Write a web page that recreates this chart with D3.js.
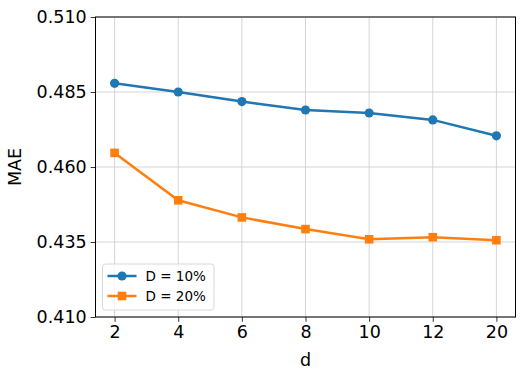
<!DOCTYPE html>
<html>
<head>
<meta charset="utf-8">
<script src="https://cdn.jsdelivr.net/npm/d3@7"></script>
<style>
  body { margin: 0; background: #fff; }
  text { font-family: 'DejaVu Sans', sans-serif; }
</style>
</head>
<body>
<div id="chart"></div>
<script>
const dValues = ['2', '4', '6', '8', '10', '12', '20']
const mae10 = [0.4879, 0.4850, 0.4818, 0.4790, 0.4780, 0.4757, 0.4704]
const mae20 = [0.4647, 0.4489, 0.4432, 0.4393, 0.4359, 0.4366, 0.4356]
const yTicks = [0.410, 0.435, 0.460, 0.485, 0.510]
const seriesNames = ['D = 10%', 'D = 20%']

const margin = { top: 17, left: 95.5, right: 9.5, bottom: 61 }
const width = 525 - margin.left - margin.right
const height = 378 - margin.top - margin.bottom

const svg = d3
  .select('#chart')
  .append('svg')
  .attr('width', 525)
  .attr('height', 378)
  .append('g')
  .attr('transform', `translate(${margin.left},${margin.top})`)

// categorical x with matplotlib-like 5% padding
const xIndex = d3.scaleLinear().domain([-0.3, dValues.length - 1 + 0.3]).range([0, width])
const x = d => xIndex(dValues.indexOf(d))
const y = d3.scaleLinear().domain([0.410, 0.510]).range([height, 0])

// grid
svg
  .selectAll('.vgrid')
  .data(dValues)
  .enter()
  .append('line')
  .attr('x1', d => x(d))
  .attr('x2', d => x(d))
  .attr('y1', 0)
  .attr('y2', height)
  .attr('stroke', '#d0d0d0')
  .attr('stroke-width', 0.9)

svg
  .selectAll('.hgrid')
  .data(yTicks)
  .enter()
  .append('line')
  .attr('x1', 0)
  .attr('x2', width)
  .attr('y1', d => y(d))
  .attr('y2', d => y(d))
  .attr('stroke', '#d0d0d0')
  .attr('stroke-width', 0.9)

// axes
const yAxis = d3.axisLeft(y).tickValues(yTicks).tickFormat(d3.format('.3f')).tickSize(4.8).tickPadding(4)
const xAxis = d3
  .axisBottom(xIndex)
  .tickValues(d3.range(dValues.length))
  .tickFormat(i => dValues[i])
  .tickSize(4.8)
  .tickPadding(4)

const gy = svg.append('g').call(yAxis)
const gx = svg.append('g').attr('transform', `translate(0,${height})`).call(xAxis)
;[gx, gy].forEach(g => {
  g.select('.domain').remove()
  g.selectAll('text').style('font-size', '17.5px').attr('fill', '#000')
  g.selectAll('line').attr('stroke', '#000').attr('stroke-width', 0.8)
})

// frame
svg
  .append('rect')
  .attr('width', width)
  .attr('height', height)
  .attr('fill', 'none')
  .attr('stroke', '#000')
  .attr('stroke-width', 1)

// axis labels
svg
  .append('text')
  .text('d')
  .attr('x', width / 2)
  .attr('y', height + 49)
  .attr('text-anchor', 'middle')
  .style('font-size', '17.5px')

svg
  .append('text')
  .text('MAE')
  .attr('transform', `translate(${-75},${height / 2}) rotate(-90)`)
  .attr('text-anchor', 'middle')
  .style('font-size', '17.5px')

const line = d3
  .line()
  .x((d, i) => x(dValues[i]))
  .y(d => y(d))

const colors = ['#1f77b4', '#ff7f0e']

// D = 10%
svg
  .append('path')
  .datum(mae10)
  .attr('d', line)
  .attr('fill', 'none')
  .attr('stroke', colors[0])
  .attr('stroke-width', 2.5)

svg
  .selectAll('.dot10')
  .data(mae10)
  .enter()
  .append('circle')
  .attr('cx', (d, i) => x(dValues[i]))
  .attr('cy', d => y(d))
  .attr('r', 4.6)
  .attr('fill', colors[0])

// D = 20%
svg
  .append('path')
  .datum(mae20)
  .attr('d', line)
  .attr('fill', 'none')
  .attr('stroke', colors[1])
  .attr('stroke-width', 2.5)

svg
  .selectAll('.sq20')
  .data(mae20)
  .enter()
  .append('rect')
  .attr('x', (d, i) => x(dValues[i]) - 4.3)
  .attr('y', d => y(d) - 4.3)
  .attr('width', 8.6)
  .attr('height', 8.6)
  .attr('fill', colors[1])

// legend
const legend = svg.append('g').attr('transform', 'translate(7,247)')
legend
  .append('rect')
  .attr('width', 111.5)
  .attr('height', 46)
  .attr('rx', 3)
  .attr('fill', '#fff')
  .attr('fill-opacity', 0.8)
  .attr('stroke', '#d8d8d8')

seriesNames.forEach((name, i) => {
  const ly = 12 + i * 20
  legend
    .append('line')
    .attr('x1', 5)
    .attr('x2', 34)
    .attr('y1', ly)
    .attr('y2', ly)
    .attr('stroke', colors[i])
    .attr('stroke-width', 2.5)
  if (i === 0) {
    legend.append('circle').attr('cx', 19.5).attr('cy', ly).attr('r', 4.6).attr('fill', colors[i])
  } else {
    legend
      .append('rect')
      .attr('x', 19.5 - 4.3)
      .attr('y', ly - 4.3)
      .attr('width', 8.6)
      .attr('height', 8.6)
      .attr('fill', colors[i])
  }
  legend
    .append('text')
    .text(name)
    .attr('x', 43)
    .attr('y', ly)
    .attr('dy', '0.35em')
    .style('font-size', '13.5px')
})
</script>
</body>
</html>
